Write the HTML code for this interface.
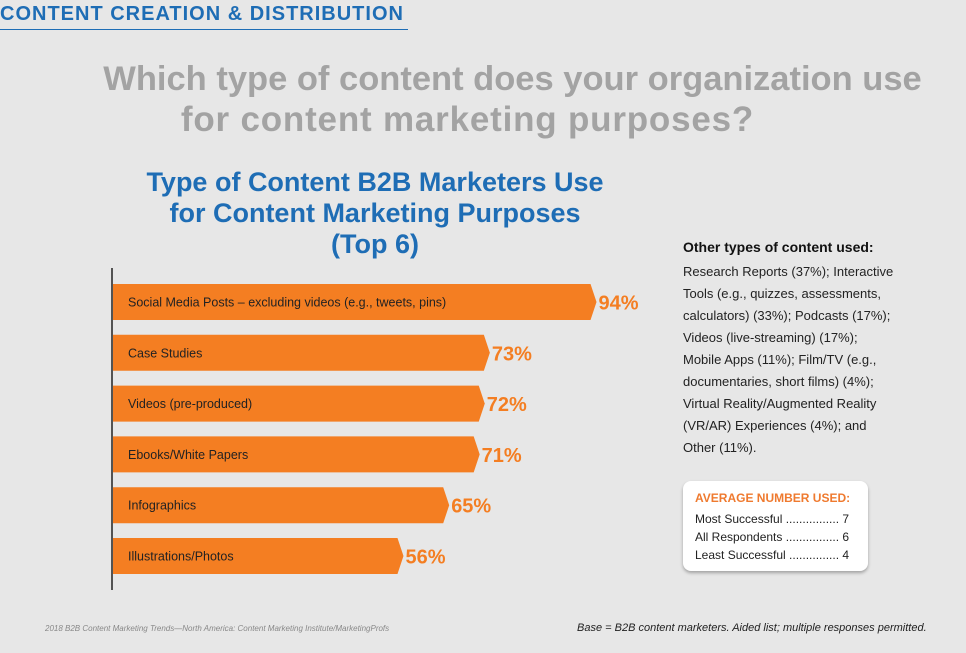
<!DOCTYPE html>
<html><head><meta charset="utf-8"><style>
body{margin:0;width:966px;height:653px;background:#e7e7e7;font-family:"Liberation Sans",sans-serif;position:relative;overflow:hidden}
.a{position:absolute;margin:0}
</style></head><body>
<div class="a" style="left:0;top:3px;font-size:20px;font-weight:bold;color:#1e6db5;letter-spacing:1px">CONTENT CREATION &amp; DISTRIBUTION</div>
<div class="a" style="left:0;top:29px;width:408px;height:1px;background:#1e6db5"></div>
<div class="a" style="left:100px;width:825px;top:60px;text-align:center;font-size:34.5px;font-weight:bold;color:#a3a3a3;white-space:nowrap">Which type of content does your organization use</div>
<div class="a" style="left:172px;width:591px;top:100px;text-align:center;font-size:35px;font-weight:bold;color:#a3a3a3;white-space:nowrap;letter-spacing:0.8px">for content marketing purposes?</div>
<div class="a" style="left:100px;width:550px;top:167px;text-align:center;font-size:27px;font-weight:bold;color:#1e6db5;line-height:31px">Type of Content B2B Marketers Use<br>for Content Marketing Purposes<br>(Top 6)</div>
<svg class="a" style="left:0;top:0" width="966" height="653">
<line x1="112" y1="268" x2="112" y2="590" stroke="#222" stroke-width="1.5"/>
<g id="bars"></g>
</svg>
<div class="a" style="left:683px;top:239px;font-size:14px;font-weight:bold;color:#111">Other types of content used:</div>
<div class="a" style="left:683px;top:261px;font-size:13px;color:#222;line-height:22px;white-space:nowrap">Research Reports (37%); Interactive<br>Tools (e.g., quizzes, assessments,<br>calculators) (33%); Podcasts (17%);<br>Videos (live-streaming) (17%);<br>Mobile Apps (11%); Film/TV (e.g.,<br>documentaries, short films) (4%);<br>Virtual Reality/Augmented Reality<br>(VR/AR) Experiences (4%); and<br>Other (11%).</div>
<div class="a" style="left:683px;top:481px;width:185px;height:90px;background:#fff;border-radius:8px;box-shadow:0 2px 3px rgba(0,0,0,0.3)">
<div class="a" style="left:12px;top:10px;font-size:12px;font-weight:bold;color:#ef7a2f">AVERAGE NUMBER USED:</div>
<div class="a" style="left:12px;top:29px;font-size:12px;color:#222;line-height:18px">Most Successful ................ 7<br>All Respondents ................ 6<br>Least Successful ............... 4</div>
</div>
<div class="a" style="left:45px;top:624px;font-size:8px;font-style:italic;color:#888">2018 B2B Content Marketing Trends—North America: Content Marketing Institute/MarketingProfs</div>
<div class="a" style="left:577px;top:622px;font-size:11px;font-style:italic;color:#222">Base = B2B content marketers. Aided list; multiple responses permitted.</div>
<script>
const categories=["Social Media Posts – excluding videos (e.g., tweets, pins)","Case Studies","Videos (pre-produced)","Ebooks/White Papers","Infographics","Illustrations/Photos"];
const values=[94,73,72,71,65,56];
const x0=113, pxPer=5.08, y0=284, step=50.8, h=36;
const xs=v=>x0+v*pxPer;
const g=document.getElementById('bars');
const NS='http://www.w3.org/2000/svg';
categories.forEach((c,i)=>{
 const y=y0+i*step, xe=xs(values[i]);
 const p=document.createElementNS(NS,'polygon');
 p.setAttribute('points',`${x0},${y} ${xe},${y} ${xe+6},${y+h/2} ${xe},${y+h} ${x0},${y+h}`);
 p.setAttribute('fill','#f47e22');
 
 
 g.appendChild(p);
 const t=document.createElementNS(NS,'text');
 t.setAttribute('x',x0+15);t.setAttribute('y',y+h/2+4.5);
 t.setAttribute('font-size','12.5');t.setAttribute('fill','#222');
 t.textContent=c;
 
 
 g.appendChild(t);
 const v=document.createElementNS(NS,'text');
 v.setAttribute('x',xe+8);v.setAttribute('y',y+h/2+7.5);
 v.setAttribute('font-size','20');v.setAttribute('font-weight','bold');v.setAttribute('fill','#f47e22');
 v.textContent=values[i]+'%';
 
 
 g.appendChild(v);
});
</script>
</body></html>
